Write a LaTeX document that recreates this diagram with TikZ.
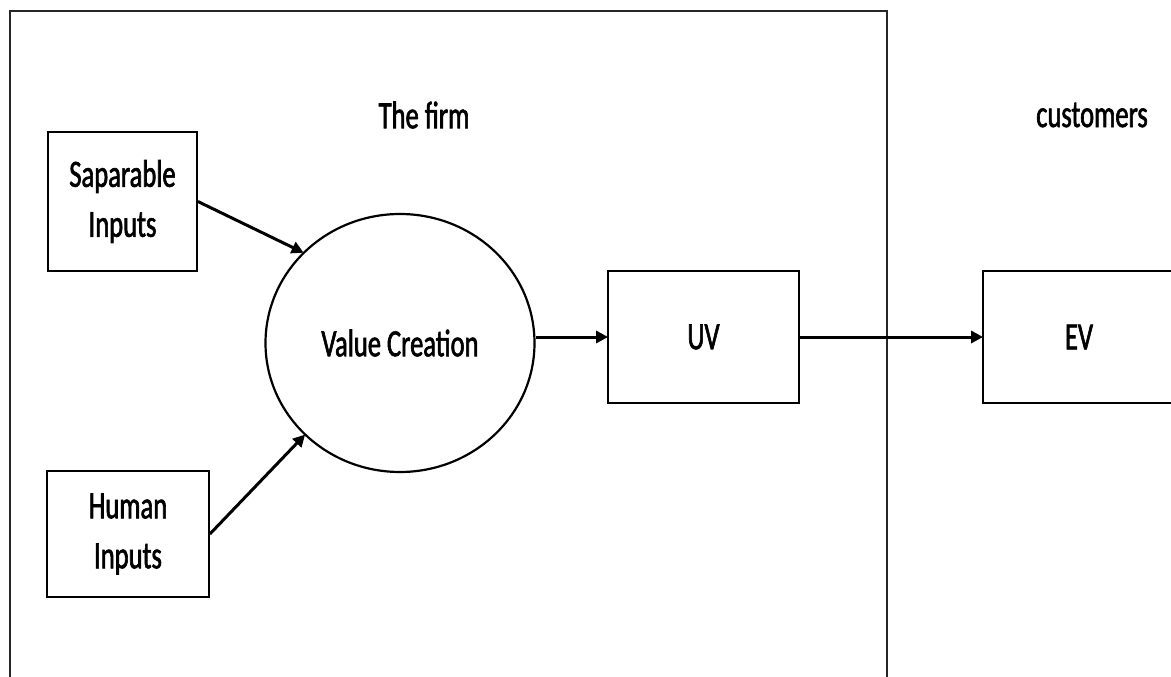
\documentclass[tikz,border=0pt]{standalone}
\usepackage{fontspec}
\newfontfamily\diagfont[FakeStretch=0.69,FakeBold=1.6]{Carlito}
\usetikzlibrary{arrows.meta,shapes.geometric}
\begin{document}
\begin{tikzpicture}[x=1pt,y=-1pt,
  lbl/.style={font=\diagfont\fontsize{38.5}{50}\selectfont, align=center, inner sep=0pt},
  boxnode/.style={lbl, draw, line width=1.8pt},
  arr/.style={line width=3pt, -{Triangle[length=12pt,width=12pt]}, shorten >=-1pt}
]
\useasboundingbox (0,0) rectangle (1171,677);
\clip (0,0) rectangle (1171,677);
\fill[white] (0,0) rectangle (1171,677);
% firm frame
\draw[line width=1.8pt, black!85] (10,700) -- (10,11) -- (887,11) -- (887,700);
\node[lbl] (firm) at (424,115) {The firm};
\node[lbl] (cust) at (1092,115) {customers};
\node[boxnode, minimum width=149pt, minimum height=139pt] (sap) at (122.5,201.5) {Saparable\\Inputs};
\node[boxnode, minimum width=162pt, minimum height=126pt] (hum) at (128,534) {Human\\Inputs};
\node[lbl, draw, ellipse, line width=2.2pt, minimum width=269pt, minimum height=258pt] (vc) at (400,343) {Value Creation};
\node[boxnode, minimum width=191pt, minimum height=132pt] (uv) at (703.5,337) {UV};
\node[boxnode, minimum width=192pt, minimum height=132pt] (ev) at (1079,337) {EV};
\draw[arr] (sap.east) -- (vc.137);
\draw[arr] (hum.east) -- (vc.224);
\draw[arr] (vc.east |- uv.west) -- (uv.west);
\draw[arr] (uv.east) -- (ev.west);
\end{tikzpicture}
\end{document}
